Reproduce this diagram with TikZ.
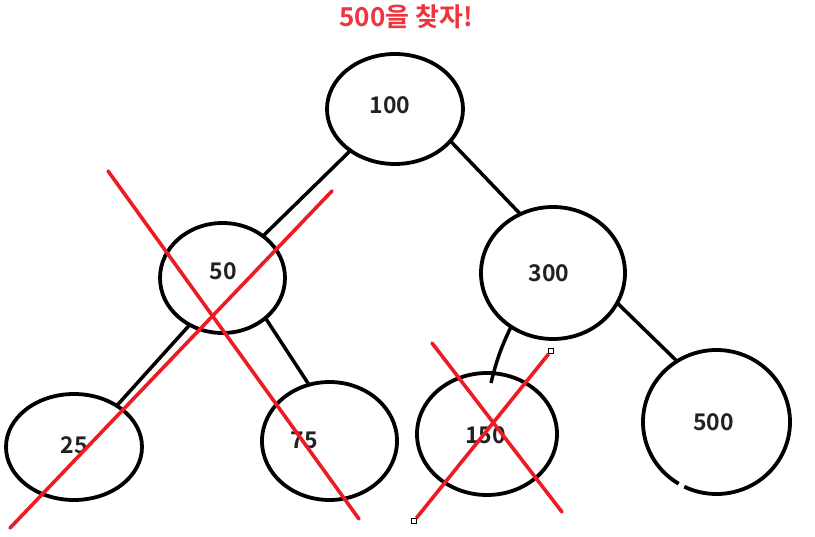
\documentclass[tikz,border=0pt]{standalone}
\usepackage{fontspec}
\setmainfont{Noto Sans CJK KR}[BoldFont={* Bold}]
\usetikzlibrary{shapes.geometric,calc}
\definecolor{xred}{RGB}{237,28,36}
\definecolor{tred}{RGB}{238,52,62}
\definecolor{txt}{RGB}{34,34,34}
\tikzset{
  oval/.style 2 args={ellipse,draw=black,line width=3.8pt,inner sep=0pt,outer sep=0pt,minimum width=#1pt,minimum height=#2pt},
  ovalnd/.style 2 args={ellipse,inner sep=0pt,outer sep=0pt,minimum width=#1pt,minimum height=#2pt},
  lbl/.style={font=\fontsize{23}{23}\selectfont\bfseries,text=txt,inner sep=0pt},
  edge/.style={line width=3.5pt,black},
  cross/.style={line width=3.6pt,xred,line cap=round},
  handle/.style={rectangle,draw=black,fill=white,line width=0.8pt,minimum size=5pt,inner sep=0pt}
}
\begin{document}
\begin{tikzpicture}[x=1pt,y=-1pt]
\useasboundingbox (0,0) rectangle (815,537);
% title
\node[anchor=base,font=\fontsize{26}{26}\selectfont\bfseries,text=tred,inner sep=0pt] (title) at (406,27) {500을 찾자!};
% ellipses
\node[oval={136}{110}] (e100) at (395,109) {};
\node[oval={125}{110}] (e50) at (222.5,278) {};
\node[oval={144}{132}] (e300) at (553,273) {};
\node[oval={136}{106}] (e25) at (74,447) {};
\node[oval={135}{118}] (e75) at (329.5,441) {};
\node[oval={140}{122}] (e150) at (487,434) {};
\node[ovalnd={147}{144}] (e500) at (716.5,422) {};
\draw[line width=3.8pt] (e500.center) ++(121:73.5 and 72) arc[start angle=121,end angle=476,x radius=73.5,y radius=72];
% labels
\node[lbl] (t100) at (390,105) {100};
\node[lbl] (t50) at (223.5,271.5) {50};
\node[lbl] (t300) at (549,273) {300};
\node[lbl] (t25) at (74,445) {25};
\node[lbl] (t75) at (304.5,440) {75};
\node[lbl] (t150) at (485.5,435) {150};
\node[lbl] (t500) at (713.5,422.5) {500};
% edges
\draw[edge] (e100.223) -- (e50.46);
\draw[edge] (e100.330) -- (e300.119);
\draw[edge] (e50.235) -- (e25.44);
\draw[edge] (e50.317) -- (e75.110);
\draw[edge] (e300.232) to[bend right=6] ($(e150.center)+(4,-51)$);
\draw[edge] (e300.335) -- (e500.123);
% red crosses
\coordinate (a1) at (108,171);
\coordinate (a2) at (359,519);
\coordinate (b1) at (332,191);
\coordinate (b2) at (10,528);
\draw[cross] (a1) -- (a2);
\draw[cross] (b1) -- (b2);
\coordinate (c1) at (432,343);
\coordinate (c2) at (562,512);
\draw[cross] (c1) -- (c2);
\node[handle] (h1) at (551,351) {};
\node[handle] (h2) at (414,521) {};
\draw[cross,line cap=butt] (h1) -- (h2);
\end{tikzpicture}
\end{document}
